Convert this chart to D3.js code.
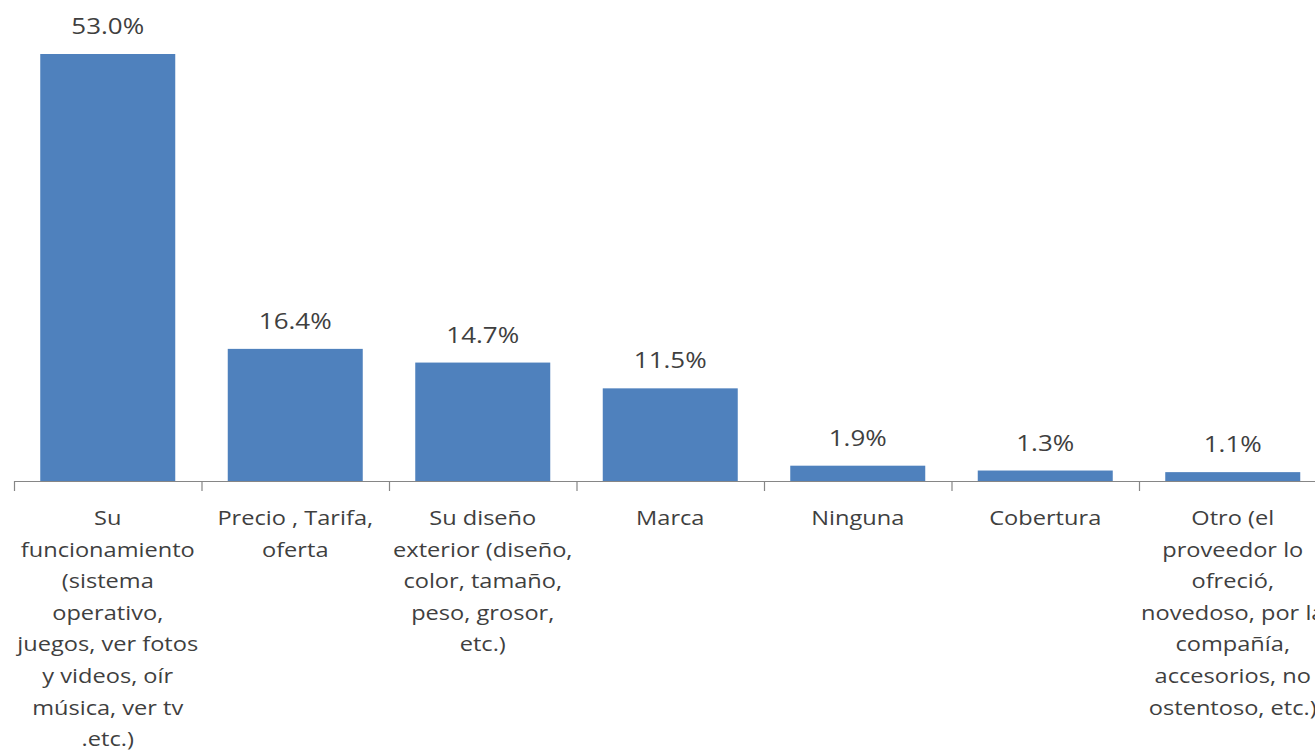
<!DOCTYPE html>
<meta charset="utf-8">
<script src="https://d3js.org/d3.v7.min.js"></script>
<style>
  body { margin: 0; background: #fff; }
  text { font-family: "Open Sans", "Liberation Sans", Arial, sans-serif; fill: #3f3f3f; }
</style>
<div id="chart"></div>
<script>
// categories, split into the lines shown under each bar
var categories = [
  ["Su", "funcionamiento", "(sistema", "operativo,", "juegos, ver fotos", "y videos, oír", "música, ver tv", ".etc.)"],
  ["Precio , Tarifa,", "oferta"],
  ["Su diseño", "exterior (diseño,", "color, tamaño,", "peso, grosor,", "etc.)"],
  ["Marca"],
  ["Ninguna"],
  ["Cobertura"],
  ["Otro (el", "proveedor lo", "ofreció,", "novedoso, por la", "compañía,", "accesorios, no", "ostentoso, etc.)"]
];
var values = [53.0, 16.4, 14.7, 11.5, 1.9, 1.3, 1.1];
var valueLabels = ["53.0%", "16.4%", "14.7%", "11.5%", "1.9%", "1.3%", "1.1%"];

var W = 1315, H = 753;
var x0 = 14, step = 187.5, baseY = 481;

var svg = d3.select("#chart").append("svg")
    .attr("width", W)
    .attr("height", H);

var idx = d3.range(values.length);

var x = d3.scaleBand()
    .domain(idx)
    .range([x0, x0 + step * values.length])
    .paddingInner(0.28)
    .paddingOuter(0.14);

var y = d3.scaleLinear()
    .domain([0, 53])
    .range([baseY, 54]);

// boundary ticks
var xb = d3.scaleLinear()
    .domain([0, values.length])
    .range(x.range());

svg.selectAll("rect.bar")
    .data(values)
    .enter().append("rect")
    .attr("class", "bar")
    .attr("x", function(d, i) { return x(i); })
    .attr("y", function(d) { return y(d); })
    .attr("width", x.bandwidth())
    .attr("height", function(d) { return baseY - y(d); })
    .attr("fill", "#4F81BD");

var axis = svg.append("g")
    .attr("transform", "translate(0," + baseY + ")")
    .call(d3.axisBottom(xb).ticks(values.length).tickSize(10).tickSizeOuter(0).tickFormat(""));
axis.select(".domain").attr("stroke", "#868686").attr("stroke-width", 1.2);
axis.selectAll(".tick line").attr("stroke", "#868686").attr("stroke-width", 1.2);

// value labels
svg.selectAll("text.val")
    .data(values)
    .enter().append("text")
    .attr("class", "val")
    .attr("text-anchor", "middle")
    .attr("font-size", 22)
    .attr("transform", function(d, i) {
        return "translate(" + (x(i) + x.bandwidth() / 2) + "," + (y(d) - 20) + ") scale(1.18,1)";
    })
    .text(function(d, i) { return valueLabels[i]; });

// category labels
var cat = svg.selectAll("g.cat")
    .data(categories)
    .enter().append("g")
    .attr("class", "cat")
    .attr("transform", function(d, i) {
        return "translate(" + (x(i) + x.bandwidth() / 2) + ",525) scale(1.18,1)";
    });
cat.selectAll("text")
    .data(function(d) { return d; })
    .enter().append("text")
    .attr("text-anchor", "middle")
    .attr("font-size", 20)
    .attr("y", function(d, j) { return j * 31.6; })
    .text(function(d) { return d; });
</script>
